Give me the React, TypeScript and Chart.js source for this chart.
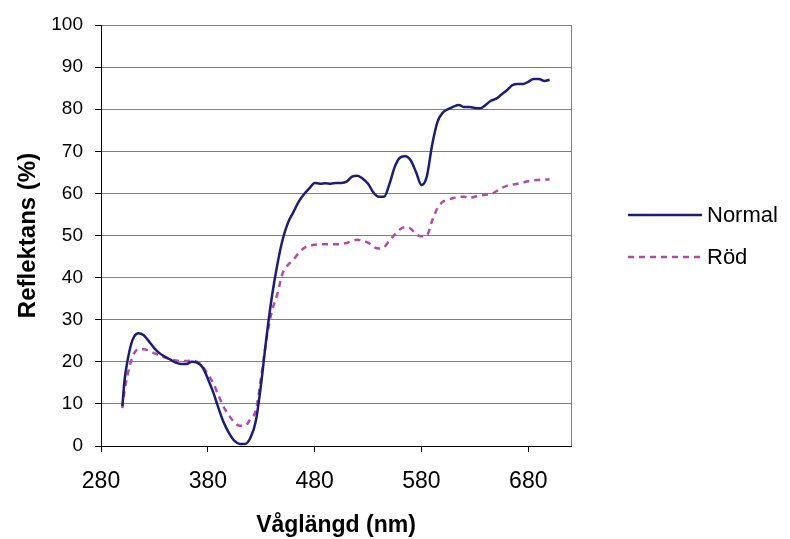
import React, { useEffect, useRef } from "react";
import { Chart, registerables } from "chart.js";

Chart.register(...registerables);

const wavelengths = [300, 302, 305, 308, 311, 315, 320, 325, 330, 335, 340, 345, 350, 355, 360, 365, 370, 375, 380, 385, 390, 395, 400, 405, 410, 415, 420, 425, 430, 435, 440, 445, 450, 455, 460, 465, 470, 475, 480, 485, 490, 495, 500, 505, 510, 515, 520, 525, 530, 535, 540, 545, 550, 555, 560, 565, 570, 575, 580, 585, 590, 595, 600, 605, 610, 615, 620, 625, 630, 635, 640, 645, 650, 655, 660, 665, 670, 675, 680, 685, 690, 695, 700];

const normal = [9.5, 15.5, 20.5, 24, 26, 26.8, 26.3, 24.8, 23.2, 22, 21.2, 20.5, 19.8, 19.5, 19.5, 20, 19.8, 18.7, 16, 12.8, 9, 5.5, 3, 1.2, 0.5, 0.5, 2, 6, 15, 26, 35.5, 43, 49, 53, 55.5, 58, 59.8, 61.2, 62.5, 62.3, 62.4, 62.3, 62.5, 62.5, 62.8, 64, 64.2, 63.5, 62.3, 60.2, 59.2, 59.2, 62.2, 66.3, 68.5, 68.8, 67.8, 65, 62, 64, 71.5, 77, 79.2, 80, 80.6, 81, 80.5, 80.5, 80.3, 80.2, 81, 82, 82.5, 83.5, 84.5, 85.7, 86, 86, 86.5, 87.2, 87.2, 86.7, 87];

const rod = [9, 13, 17, 20, 22, 23, 23, 22.6, 22, 21.5, 21, 20.6, 20.3, 20.2, 20.2, 20.3, 20, 19, 17, 15, 12, 9.2, 7.2, 5.6, 4.8, 4.8, 6.5, 8.5, 16.5, 25.5, 32, 36, 41, 43, 44.2, 45.8, 47, 47.5, 47.8, 47.9, 47.9, 47.9, 47.9, 48, 48.2, 48.7, 49, 48.6, 48.3, 47.3, 46.9, 47.2, 48.8, 50.2, 51.5, 52, 51.6, 50.3, 49.8, 50, 53.5, 56.5, 58, 58.5, 58.9, 59.2, 59.2, 58.9, 59.2, 59.5, 59.7, 59.8, 60.5, 61.3, 61.8, 62.1, 62.3, 62.6, 62.9, 63.1, 63.2, 63.3, 63.3];

const seriesNames = ["Normal", "Röd"];
const xTicks = [280, 380, 480, 580, 680];
const yTicks = [0, 10, 20, 30, 40, 50, 60, 70, 80, 90, 100];
const xTitle = "Våglängd (nm)";
const yTitle = "Reflektans (%)";

const FONT = '"Liberation Sans", Arial, sans-serif';
const GRID = "#808080";
const NAVY = "#1c1c7a";
const PLUM = "#b44aa8";

const extras = {
  id: "extras",
  beforeDatasetsDraw(chart: any) {
    const { ctx, chartArea: a } = chart;
    ctx.save();
    ctx.strokeStyle = GRID;
    ctx.lineWidth = 1;
    ctx.beginPath();
    ctx.moveTo(Math.round(a.right) + 0.5, a.top);
    ctx.lineTo(Math.round(a.right) + 0.5, a.bottom);
    ctx.stroke();
    ctx.restore();
  },
  afterDraw(chart: any) {
    const { ctx, chartArea: a } = chart;
    const x0 = a.right + 57;
    const x1 = a.right + 131;
    const ys = [215, 257];
    ctx.save();
    chart.data.datasets.forEach((ds: any, i: number) => {
      const y = ys[i];
      ctx.strokeStyle = ds.borderColor;
      ctx.lineWidth = ds.borderWidth;
      ctx.setLineDash(ds.borderDash || []);
      ctx.beginPath();
      ctx.moveTo(x0, y);
      ctx.lineTo(x1, y);
      ctx.stroke();
      ctx.setLineDash([]);
      ctx.fillStyle = "#000";
      ctx.font = `22px ${FONT}`;
      ctx.textBaseline = "middle";
      ctx.textAlign = "left";
      ctx.fillText(ds.label, x1 + 5, y + 1);
    });
    ctx.restore();
  },
};

export default function App() {
  const ref = useRef<HTMLCanvasElement | null>(null);
  useEffect(() => {
    document.body.style.margin = "0";
    const canvas = ref.current!;
    const chart = new Chart(canvas, {
      type: "line",
      data: {
        datasets: [
          {
            label: seriesNames[0],
            data: wavelengths.map((x, i) => ({ x, y: normal[i] })),
            borderColor: NAVY,
            backgroundColor: NAVY,
            borderWidth: 2.5,
            pointRadius: 0,
            cubicInterpolationMode: "monotone",
            fill: false,
          },
          {
            label: seriesNames[1],
            data: wavelengths.map((x, i) => ({ x, y: rod[i] })),
            borderColor: PLUM,
            backgroundColor: PLUM,
            borderWidth: 2.5,
            borderDash: [6, 5],
            pointRadius: 0,
            cubicInterpolationMode: "monotone",
            fill: false,
          },
        ],
      },
      options: {
        animation: false,
        responsive: false,
        devicePixelRatio: 1,
        layout: { padding: { left: 0, top: 25, right: 219, bottom: 0 } },
        plugins: { legend: { display: false }, tooltip: { enabled: false } },
        scales: {
          x: {
            type: "linear",
            min: 280,
            max: 720,
            afterBuildTicks: (s: any) => {
              s.ticks = xTicks.map((v) => ({ value: v }));
            },
            afterFit: (s: any) => {
              s.height = 93;
            },
            grid: {
              display: true,
              drawOnChartArea: false,
              drawTicks: true,
              tickLength: 6,
              color: "#000",
              tickColor: "#000",
            },
            border: { display: true, color: "#000", width: 1 },
            ticks: {
              color: "#000",
              font: { family: FONT, size: 23 },
              padding: 16,
              maxRotation: 0,
              callback: (v: any) => String(v),
            },
            title: {
              display: true,
              text: xTitle,
              color: "#000",
              font: { family: FONT, size: 23, weight: "bold" },
              padding: { top: 0, bottom: 0 },
            },
          },
          y: {
            type: "linear",
            min: 0,
            max: 100,
            afterBuildTicks: (s: any) => {
              s.ticks = yTicks.map((v) => ({ value: v }));
            },
            afterFit: (s: any) => {
              s.width = 101;
            },
            grid: {
              display: true,
              drawTicks: true,
              tickLength: 6,
              color: (c: any) => (c.tick && c.tick.value === 0 ? "#000" : GRID),
              tickColor: "#000",
            },
            border: { display: true, color: "#000", width: 1 },
            ticks: {
              color: "#000",
              font: { family: FONT, size: 19 },
              padding: 12,
              callback: (v: any) => String(v),
            },
            title: {
              display: true,
              text: yTitle,
              color: "#000",
              font: { family: FONT, size: 24, weight: "bold" },
              padding: { top: 14, bottom: 0 },
            },
          },
        },
      },
      plugins: [extras],
    } as any);
    return () => chart.destroy();
  }, []);
  return (
    <div style={{ position: "absolute", left: 0, top: 0, width: 790, height: 539, background: "#fff" }}>
      <canvas ref={ref} width={790} height={539} style={{ display: "block", width: 790, height: 539 }} />
    </div>
  );
}
